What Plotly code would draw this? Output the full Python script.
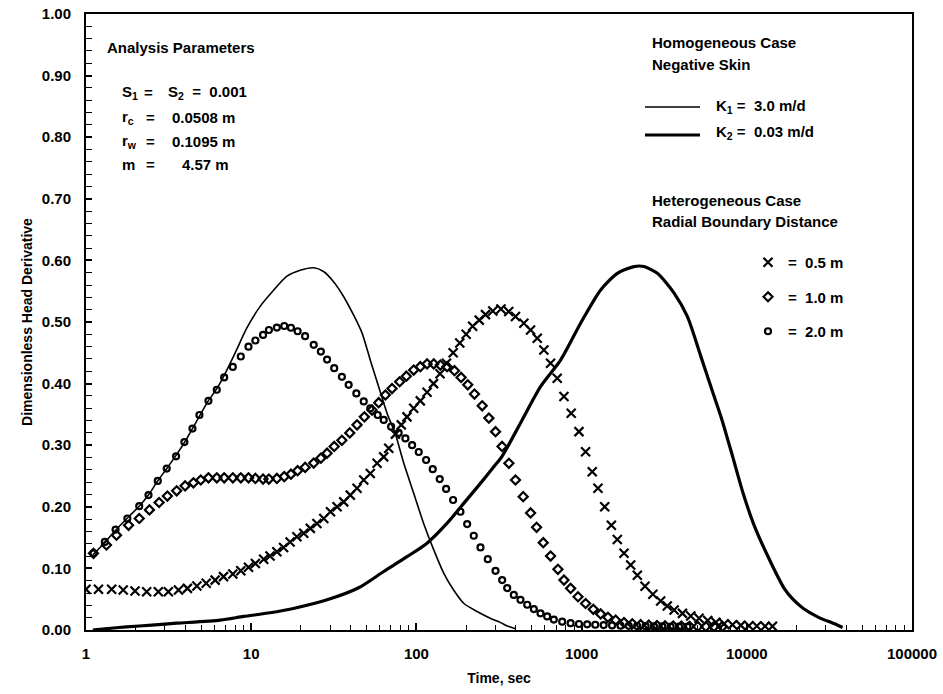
import plotly.graph_objects as go

# ---------------- data ----------------
k1_t = [1.1, 1.3, 1.5, 1.8, 2.1, 2.4, 2.7, 3.1, 3.5, 4.0, 4.5, 5.0, 5.5, 6.2, 7.0, 8.0, 9.4,
        11.3, 13.7, 16.4, 19.8, 23.9, 27.4, 31.6, 36.3, 41.7, 46.9, 52.6, 59.1, 66.4, 74.6,
        83.8, 96.3, 110.6, 127.4, 146.5, 168, 194, 233, 280, 323, 360, 400]
k1_v = [0.122, 0.142, 0.161, 0.183, 0.201, 0.220, 0.241, 0.263, 0.283, 0.307, 0.331, 0.353,
        0.372, 0.392, 0.418, 0.450, 0.490, 0.525, 0.552, 0.574, 0.584, 0.588, 0.582, 0.565,
        0.541, 0.511, 0.482, 0.438, 0.395, 0.352, 0.318, 0.271, 0.222, 0.173, 0.130, 0.092,
        0.065, 0.043, 0.030, 0.019, 0.012, 0.006, 0.002]

k2_t = [1.1, 1.3, 1.76, 2.5, 3.54, 6.5, 9, 13, 18, 28.8, 45, 63.4, 87.7, 116, 153, 194, 244,
        294, 330, 427, 564, 746, 986, 1304, 1645, 2075, 2386, 2875, 3630, 4365, 5258, 6200,
        7000, 8200, 9500, 11000, 13500, 16800, 19000, 22000, 27000, 34000, 38000]
k2_v = [0.0, 0.002, 0.005, 0.008, 0.011, 0.016, 0.022, 0.028, 0.035, 0.049, 0.069, 0.095,
        0.119, 0.141, 0.173, 0.206, 0.238, 0.265, 0.282, 0.336, 0.395, 0.438, 0.498, 0.552,
        0.579, 0.590, 0.590, 0.579, 0.547, 0.509, 0.445, 0.387, 0.345, 0.282, 0.222, 0.172,
        0.118, 0.068, 0.050, 0.035, 0.021, 0.010, 0.004]

r05_t = [1.0, 1.19, 1.43, 1.68, 1.98, 2.33, 2.74, 3.15, 3.63, 4.11, 4.69, 5.34, 6.05, 6.80,
         7.74, 8.65, 9.63, 10.6, 11.9, 13.0, 14.3, 15.7, 17.2, 18.9, 20.8, 22.8, 25.0, 27.5,
         30.2, 33.1, 36.3, 39.8, 43.7, 48.0, 52.6, 57.8, 63.4, 68.0, 74.6, 81, 87.7, 96.3,
         105.6, 116, 127, 139, 152, 167, 183, 200, 219, 240, 262, 290, 325, 362, 398, 447,
         491, 539, 591, 649, 712, 782, 865, 964, 1057, 1160, 1256, 1380, 1514, 1645, 1806,
         1982, 2174, 2420, 2700, 3010, 3300, 3630, 4080, 4580, 5140, 5800, 6500, 7300, 8200,
         9200, 10300, 11500, 12900, 14300]
r05_v = [0.066, 0.066, 0.066, 0.065, 0.0633, 0.0622, 0.0622, 0.0622, 0.065, 0.0676, 0.0714,
         0.0758, 0.081, 0.0866, 0.0909, 0.0963, 0.1018, 0.108, 0.1147, 0.120, 0.127, 0.134,
         0.143, 0.1515, 0.157, 0.165, 0.173, 0.181, 0.192, 0.200, 0.208, 0.219, 0.230, 0.2435,
         0.254, 0.2706, 0.281, 0.295, 0.318, 0.333, 0.346, 0.360, 0.372, 0.386, 0.400, 0.416,
         0.433, 0.450, 0.466, 0.480, 0.493, 0.503, 0.512, 0.518, 0.521, 0.517, 0.509, 0.498,
         0.487, 0.4735, 0.4545, 0.433, 0.4086, 0.379, 0.352, 0.322, 0.2895, 0.257, 0.230,
         0.200, 0.170, 0.147, 0.1245, 0.1055, 0.089, 0.071, 0.058, 0.047, 0.039, 0.0325,
         0.027, 0.0227, 0.019, 0.0155, 0.0125, 0.010, 0.0085, 0.0075, 0.007, 0.0065, 0.0062,
         0.006]

r10_t = [1.11, 1.33, 1.53, 1.81, 2.10, 2.42, 2.77, 3.11, 3.54, 3.98, 4.47, 4.95, 5.51, 6.19,
         6.86, 7.74, 8.65, 9.63, 10.6, 11.8, 12.8, 14.3, 15.85, 17.4, 19.1, 21.2, 23.9, 26.4,
         28.8, 31.8, 35.4, 39.5, 43.7, 48.4, 53.9, 59.1, 64.9, 71.2, 79.2, 86.9, 96.3, 105.6,
         116, 127.4, 139.6, 153.4, 170, 186.5, 204.6, 224.7, 250.2, 274.6, 301.3, 330, 363,
         398, 443, 491, 534, 586, 649, 719, 782, 858, 951, 1057, 1177, 1304, 1444, 1608, 1806,
         2027, 2278, 2550, 2860, 3200, 3590, 4020, 4500, 5050, 5650, 6330, 7100]
r10_v = [0.1245, 0.138, 0.154, 0.170, 0.181, 0.195, 0.207, 0.2175, 0.226, 0.234, 0.239,
         0.2435, 0.247, 0.247, 0.247, 0.247, 0.247, 0.247, 0.246, 0.245, 0.245, 0.246, 0.249,
         0.253, 0.2586, 0.264, 0.271, 0.279, 0.287, 0.298, 0.308, 0.320, 0.333, 0.346, 0.357,
         0.369, 0.3815, 0.392, 0.403, 0.412, 0.422, 0.4275, 0.432, 0.432, 0.430, 0.4275, 0.421,
         0.410, 0.398, 0.383, 0.364, 0.344, 0.322, 0.298, 0.2706, 0.2435, 0.2165, 0.190,
         0.1667, 0.1418, 0.120, 0.0985, 0.081, 0.0676, 0.054, 0.043, 0.0336, 0.026, 0.0206,
         0.016, 0.012, 0.010, 0.0086, 0.0078, 0.0072, 0.0068, 0.0065, 0.0062, 0.006, 0.0058,
         0.0057, 0.0056, 0.0055]

r20_t = [1.11, 1.30, 1.51, 1.78, 2.10, 2.39, 2.72, 3.08, 3.51, 3.94, 4.41, 4.86, 5.51, 6.19,
         6.86, 7.74, 8.65, 9.63, 10.6, 11.8, 12.8, 14.3, 15.85, 17.4, 19.1, 21.2, 23.9, 26.4,
         28.8, 31.8, 35.4, 38.9, 43.3, 48.0, 52.6, 58.3, 63.4, 70.3, 78.1, 85.8, 94.2, 103.3,
         114.5, 125.6, 138.4, 151.3, 166.8, 184.8, 202.9, 222.5, 244.3, 270.5, 301.3, 330.5,
         354.5, 388.7, 426.6, 468.7, 514, 563.7, 619, 679, 763, 858, 964, 1081, 1210, 1360,
         1530, 1720, 1930, 2170, 2440, 2740, 3080, 3460, 3890, 4370]
r20_v = [0.1245, 0.143, 0.163, 0.181, 0.201, 0.219, 0.242, 0.262, 0.282, 0.305, 0.327, 0.349,
         0.372, 0.390, 0.410, 0.427, 0.444, 0.460, 0.470, 0.479, 0.487, 0.491, 0.4935, 0.4907,
         0.485, 0.477, 0.463, 0.452, 0.439, 0.425, 0.411, 0.398, 0.384, 0.371, 0.360, 0.349,
         0.341, 0.330, 0.320, 0.311, 0.300, 0.289, 0.276, 0.261, 0.245, 0.229, 0.211, 0.192,
         0.172, 0.153, 0.134, 0.115, 0.096, 0.081, 0.068, 0.057, 0.049, 0.041, 0.034, 0.027,
         0.022, 0.017, 0.0135, 0.011, 0.0097, 0.0092, 0.0085, 0.008, 0.0075, 0.007, 0.0068,
         0.0065, 0.0062, 0.006, 0.0058, 0.0056, 0.0055, 0.0054]

x_tick_vals = [1, 10, 100, 1000, 10000, 100000]
x_tick_text = ["1", "10", "100", "1000", "10000", "100000"]

FONT = "Liberation Sans, Arial, sans-serif"
BLACK = "#000000"
NB = "\u00a0"

fig = go.Figure()

fig.add_trace(go.Scatter(x=k1_t, y=k1_v, mode="lines", name="K1 = 3.0 m/d",
                         line=dict(color=BLACK, width=1.6, shape="spline", smoothing=0.7),
                         showlegend=False))
fig.add_trace(go.Scatter(x=k2_t, y=k2_v, mode="lines", name="K2 = 0.03 m/d",
                         line=dict(color=BLACK, width=3.2, shape="spline", smoothing=0.7),
                         showlegend=False))
fig.add_trace(go.Scatter(x=r05_t, y=r05_v, mode="markers", name="=" + NB * 2 + "0.5 m",
                         legendgroup="a",
                         marker=dict(symbol="x-thin-open", size=9, color=BLACK,
                                     line=dict(color=BLACK, width=2.2))))
fig.add_trace(go.Scatter(x=r10_t, y=r10_v, mode="markers", name="=" + NB * 2 + "1.0 m",
                         legendgroup="b",
                         marker=dict(symbol="diamond-open", size=7, color=BLACK,
                                     line=dict(color=BLACK, width=2.2))))
fig.add_trace(go.Scatter(x=r20_t, y=r20_v, mode="markers", name="=" + NB * 2 + "2.0 m",
                         legendgroup="c",
                         marker=dict(symbol="circle-open", size=6, color=BLACK,
                                     line=dict(color=BLACK, width=2.2))))

W, H = 943, 694
AX_L, AX_R, AX_T, AX_B = 86, 912, 14, 630          # plot frame in window pixels
L, R, T, B = AX_L, W - AX_R, AX_T, H - AX_B
PW, PH = AX_R - AX_L, AX_B - AX_T


def px(xp):
    return (xp - AX_L) / PW


def py(yp):
    return (AX_B - yp) / PH


ann_font = dict(family=FONT, size=15, color=BLACK, weight="bold")


def txt(x, y, s, anchor="left"):
    fig.add_annotation(x=px(x), y=py(y), xref="paper", yref="paper", text=s,
                       showarrow=False, xanchor=anchor, yanchor="middle", font=ann_font)


# Analysis parameters block
txt(105, 47, "Analysis Parameters")
txt(120, 92, "S<sub>1</sub>")
txt(148, 92, "=", "center")
txt(166, 92, "S<sub>2</sub>" + NB + " =" + NB + " 0.001")
txt(120, 117, "r<sub>c</sub>")
txt(150, 117, "=", "center")
txt(170, 117, "0.0508 m")
txt(120, 142, "r<sub>w</sub>")
txt(150, 142, "=", "center")
txt(170, 142, "0.1095 m")
txt(120, 165, "m")
txt(150, 165, "=", "center")
txt(180, 165, "4.57 m")

# Homogeneous case legend
txt(650, 43, "Homogeneous Case")
txt(650, 64, "Negative Skin")
fig.add_shape(type="line", xref="paper", yref="paper", x0=px(645), x1=px(700),
              y0=py(107), y1=py(107), line=dict(color=BLACK, width=1.6))
fig.add_shape(type="line", xref="paper", yref="paper", x0=px(645), x1=px(700),
              y0=py(135), y1=py(135), line=dict(color=BLACK, width=3.2))
txt(714, 106, "K<sub>1</sub> =" + NB + " 3.0 m/d")
txt(714, 132, "K<sub>2</sub> =" + NB + " 0.03 m/d")

# Heterogeneous case legend header
txt(650, 200, "Heterogeneous Case")
txt(650, 221, "Radial Boundary Distance")

fig.update_layout(
    width=W, height=H,
    margin=dict(l=L, r=R, t=T, b=B, autoexpand=False),
    paper_bgcolor="white", plot_bgcolor="white",
    font=dict(family=FONT, color=BLACK, size=15),
    showlegend=True,
    legend=dict(x=px(748), y=py(246), xanchor="left", yanchor="top",
                bgcolor="rgba(0,0,0,0)", borderwidth=0, tracegroupgap=12,
                font=dict(family=FONT, size=15, color=BLACK, weight="bold"),
                itemsizing="trace"),
    xaxis=dict(type="log", range=[0, 5], tickmode="array", tickvals=x_tick_vals,
               ticktext=x_tick_text, ticks="inside", ticklen=7, tickwidth=1.5,
               tickcolor=BLACK, showline=True, linewidth=2, linecolor=BLACK, mirror=True,
               showgrid=False, zeroline=False, ticklabelstandoff=9,
               tickfont=dict(family=FONT, size=15, color=BLACK, weight="bold"),
               minor=dict(tickvals=[m * 10 ** e for e in range(5) for m in range(2, 10)],
                          ticks="inside", ticklen=5, tickwidth=1.2, tickcolor=BLACK,
                          showgrid=False),
               title=dict(text="Time, sec", standoff=12,
                          font=dict(family=FONT, size=14, color=BLACK, weight="bold"))),
    yaxis=dict(range=[0, 1], dtick=0.1, tick0=0, tickformat=".2f", ticks="inside",
               ticklen=6, tickwidth=1.5, tickcolor=BLACK, showline=True, linewidth=2,
               linecolor=BLACK, mirror=True, showgrid=False, zeroline=False,
               ticklabelstandoff=10, ticklabeloverflow="allow",
               tickfont=dict(family=FONT, size=15, color=BLACK, weight="bold"),
               minor=dict(dtick=0.02, ticks="inside", ticklen=6, tickwidth=1.2,
                          tickcolor=BLACK, showgrid=False),
               title=dict(text="Dimensionless Head Derivative", standoff=6,
                          font=dict(family=FONT, size=14, color=BLACK, weight="bold"))),
)

# Drop the browser's default 8px body margin so the figure fills the window exactly,
# and hide the hover toolbar.
fig.write_html("out.html", config={"displayModeBar": False},
               post_script="document.body.style.margin='0';")
